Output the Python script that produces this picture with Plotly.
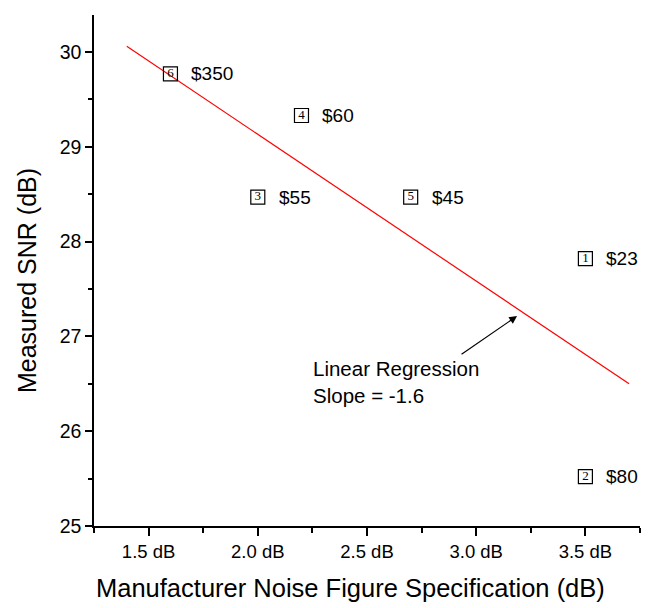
import plotly.graph_objects as go

# Data
pt_ids = ["1", "2", "3", "4", "5", "6"]
noise_fig = [3.5, 3.5, 2.0, 2.2, 2.7, 1.6]
snr = [27.82, 25.52, 28.47, 29.33, 28.47, 29.77]
prices = ["$23", "$80", "$55", "$60", "$45", "$350"]

fit_x = [1.4, 3.7]
fit_y = [30.06, 26.5]

x_tickvals = [1.5, 2.0, 2.5, 3.0, 3.5]
x_ticktext = ["1.5 dB", "2.0 dB", "2.5 dB", "3.0 dB", "3.5 dB"]
y_tickvals = [25, 26, 27, 28, 29, 30]

x_title = "Manufacturer Noise Figure Specification (dB)"
y_title = "Measured SNR (dB)"

arrow_head = (3.187, 27.215)
arrow_tail = (2.926, 26.80)
note_pos = (2.245, 26.80)
note_text = "Linear Regression<br>Slope = -1.6"

FONT = "Liberation Sans, Arial, sans-serif"

fig = go.Figure()

fig.add_trace(go.Scatter(
    x=fit_x, y=fit_y, mode="lines",
    line=dict(color="#ff0000", width=1.2),
    showlegend=False, hoverinfo="skip"))

fig.add_trace(go.Scatter(
    x=noise_fig, y=snr, mode="markers+text",
    marker=dict(symbol="square-open", size=14, color="black",
                line=dict(width=1.2, color="black")),
    text=pt_ids, textposition="middle center",
    textfont=dict(family="Liberation Serif, Times New Roman, serif", size=13, color="black"),
    showlegend=False, hoverinfo="skip"))

annotations = []
for x, y, p in zip(noise_fig, snr, prices):
    annotations.append(dict(
        x=x, y=y, xref="x", yref="y", text=p, showarrow=False,
        xanchor="left", yanchor="middle", xshift=19,
        font=dict(family=FONT, size=19, color="black")))

annotations.append(dict(
    x=arrow_head[0], y=arrow_head[1], ax=arrow_tail[0], ay=arrow_tail[1],
    xref="x", yref="y", axref="x", ayref="y", text="",
    showarrow=True, arrowhead=2, arrowsize=1.3, arrowwidth=1.2,
    arrowcolor="black"))

annotations.append(dict(
    x=note_pos[0], y=note_pos[1], xref="x", yref="y", text=note_text,
    showarrow=False, xanchor="left", yanchor="top", align="left",
    font=dict(family=FONT, size=20.5, color="black")))

# axis titles
annotations.append(dict(
    x=0.47, y=-0.121, xref="paper", yref="paper", text=x_title,
    showarrow=False, xanchor="center", yanchor="middle",
    font=dict(family=FONT, size=25.5, color="black")))
annotations.append(dict(
    x=-0.124, y=0.48, xref="paper", yref="paper", text=y_title,
    showarrow=False, xanchor="center", yanchor="middle", textangle=-90,
    font=dict(family=FONT, size=25, color="black")))

fig.update_layout(
    width=652, height=608,
    margin=dict(l=94, r=12, t=15, b=82),
    paper_bgcolor="white", plot_bgcolor="white",
    font=dict(family=FONT, color="black"),
    annotations=annotations,
    hovermode=False,
    xaxis=dict(
        range=[1.25, 3.75], showgrid=False, zeroline=False, automargin=False,
        showline=True, linecolor="black", linewidth=1.5,
        ticks="outside", ticklen=8, tickwidth=1.5, tickcolor="black",
        tickvals=x_tickvals, ticktext=x_ticktext,
        tickfont=dict(family=FONT, size=18.5),
        minor=dict(dtick=0.25, tick0=1.25, ticks="outside", ticklen=5,
                   tickwidth=1.5, tickcolor="black", showgrid=False)),
    yaxis=dict(
        range=[25, 30.39], showgrid=False, zeroline=False, automargin=False,
        showline=True, linecolor="black", linewidth=1.5,
        ticks="outside", ticklen=7, tickwidth=1.5, tickcolor="black",
        tickvals=y_tickvals,
        tickfont=dict(family=FONT, size=19.5),
        minor=dict(dtick=0.5, tick0=25, ticks="outside", ticklen=4,
                   tickwidth=1.5, tickcolor="black", showgrid=False)),
)

fig.write_html("out.html", config={"displayModeBar": False},
               post_script="document.body.style.margin='0';")
